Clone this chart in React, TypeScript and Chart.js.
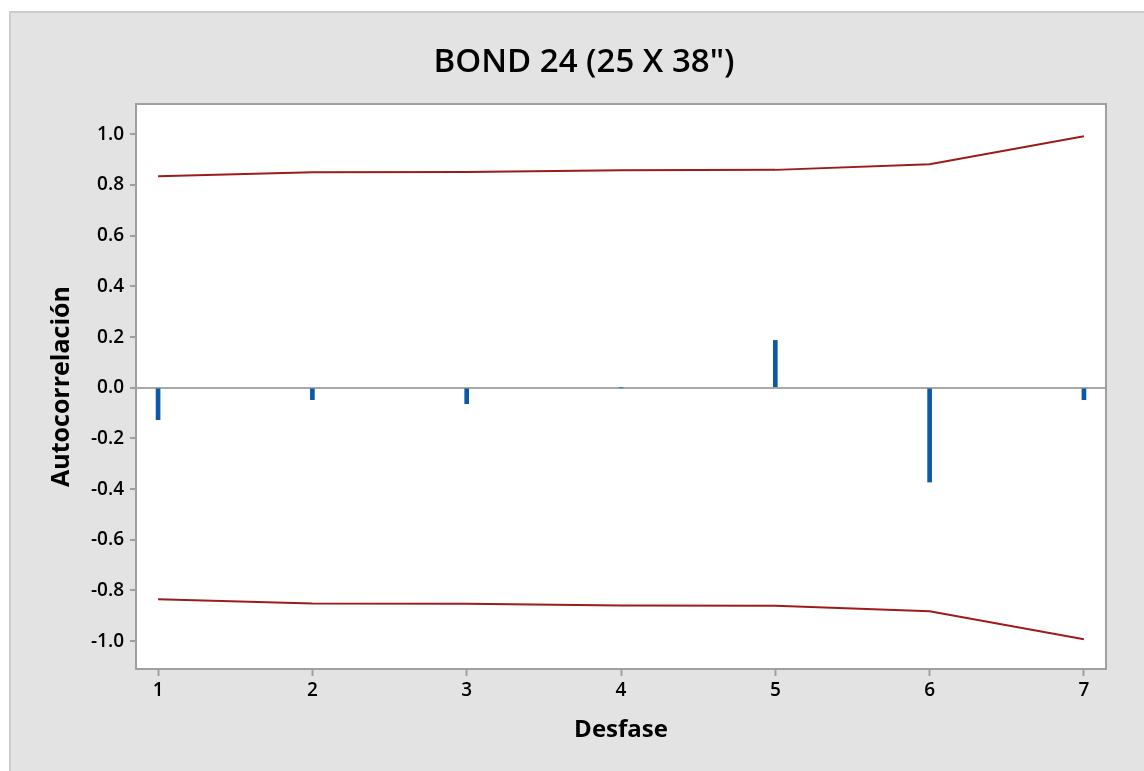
import React, { useEffect, useRef } from "react";
import { Chart, registerables } from "chart.js";

Chart.register(...registerables);

const TITLE = 'BOND 24 (25 X 38")';
const X_TITLE = "Desfase";
const Y_TITLE = "Autocorrelación";

const lags = [1, 2, 3, 4, 5, 6, 7];
const acf = [-0.126, -0.047, -0.063, 0.0, 0.187, -0.372, -0.047];
const upperLimit = [0.835, 0.851, 0.852, 0.859, 0.86, 0.882, 0.993];
const lowerLimit = [-0.835, -0.851, -0.852, -0.859, -0.86, -0.882, -0.993];
const yTicks = [-1.0, -0.8, -0.6, -0.4, -0.2, 0.0, 0.2, 0.4, 0.6, 0.8, 1.0];

const FONT = "'Open Sans', 'Noto Sans', sans-serif";

export default function App() {
  const ref = useRef<HTMLCanvasElement | null>(null);

  useEffect(() => {
    if (!ref.current) return;
    const bgPlugin = {
      id: "bgPlugin",
      afterLayout(chart: any) {
        const t = chart.titleBlock;
        if (t) {
          // centre the title over the whole grey panel
          t.right = t.left + 2 * (584 - t.left);
          t.width = t.right - t.left;
        }
      },
      beforeDraw(chart: any) {
        const { ctx, chartArea } = chart;
        ctx.save();
        ctx.fillStyle = "#ffffff";
        ctx.fillRect(0, 0, chart.width, chart.height);
        ctx.fillStyle = "#e3e3e3";
        ctx.fillRect(10, 12, chart.width, chart.height);
        ctx.strokeStyle = "#cccccc";
        ctx.lineWidth = 2;
        ctx.beginPath();
        ctx.moveTo(10, chart.height + 5);
        ctx.lineTo(10, 12);
        ctx.lineTo(chart.width + 5, 12);
        ctx.stroke();
        ctx.fillStyle = "#ffffff";
        ctx.fillRect(chartArea.left, chartArea.top, chartArea.right - chartArea.left, chartArea.bottom - chartArea.top);
        ctx.restore();
      },
      afterDraw(chart: any) {
        const { ctx, chartArea } = chart;
        ctx.save();
        ctx.strokeStyle = "#a0a0a0";
        ctx.lineWidth = 2;
        ctx.strokeRect(chartArea.left, chartArea.top, chartArea.right - chartArea.left, chartArea.bottom - chartArea.top);
        ctx.restore();
      },
    };

    const chart = new Chart(ref.current, {
      type: "bar",
      data: {
        datasets: [
          {
            type: "bar",
            data: lags.map((x, i) => ({ x, y: acf[i] })),
            backgroundColor: "#0b59a8",
            borderWidth: 0,
            barThickness: 4,
            order: 2,
          } as any,
          {
            type: "line",
            data: lags.map((x, i) => ({ x, y: upperLimit[i] })),
            borderColor: "#9e1b1b",
            borderWidth: 2,
            pointRadius: 0,
            tension: 0,
            fill: false,
            order: 1,
          } as any,
          {
            type: "line",
            data: lags.map((x, i) => ({ x, y: lowerLimit[i] })),
            borderColor: "#9e1b1b",
            borderWidth: 2,
            pointRadius: 0,
            tension: 0,
            fill: false,
            order: 1,
          } as any,
        ],
      },
      options: {
        responsive: false,
        animation: false,
        devicePixelRatio: 1,
        layout: { padding: { left: 10, right: 38, top: 0, bottom: 0 } },
        plugins: {
          legend: { display: false },
          tooltip: { enabled: false },
          title: {
            display: true,
            text: TITLE,
            color: "#000000",
            font: { family: FONT, size: 33, weight: "600" },
            padding: { top: 43, bottom: 21.4 },
          },
        },
        scales: {
          x: {
            type: "linear",
            offset: false,
            min: 0.857,
            max: 7.143,
            afterBuildTicks: (scale: any) => {
              scale.ticks = lags.map((v) => ({ value: v }));
            },
            afterFit: (scale: any) => {
              scale.height = 102;
            },
            grid: {
              display: true,
              offset: false,
              drawOnChartArea: false,
              drawTicks: true,
              tickLength: 7,
              tickColor: "#a0a0a0",
              tickWidth: 2,
            },
            border: { display: false },
            ticks: {
              color: "#000000",
              font: { family: FONT, size: 19, weight: "600" },
              padding: 3,
              callback: (v: any) => String(v),
            },
            title: {
              display: true,
              text: X_TITLE,
              color: "#000000",
              font: { family: FONT, size: 24, weight: "700" },
              padding: { top: 0, bottom: 26.6 },
            },
          },
          y: {
            type: "linear",
            min: -1.11,
            max: 1.12,
            afterBuildTicks: (scale: any) => {
              scale.ticks = yTicks.map((v) => ({ value: v }));
            },
            afterFit: (scale: any) => {
              scale.width = 126;
            },
            grid: {
              display: true,
              drawOnChartArea: true,
              drawTicks: true,
              tickLength: 6,
              tickColor: "#a0a0a0",
              tickWidth: 2,
              lineWidth: 2,
              color: (c: any) => (c.tick && Math.abs(c.tick.value) < 1e-9 ? "#a8a8a8" : "rgba(0,0,0,0)"),
            },
            border: { display: false },
            ticks: {
              color: "#000000",
              font: { family: FONT, size: 19, weight: "600" },
              padding: 6,
              callback: (v: any) => Number(v).toFixed(1),
            },
            title: {
              display: true,
              text: Y_TITLE,
              color: "#000000",
              font: { family: FONT, size: 25, weight: "700" },
              padding: { top: 37, bottom: 0 },
            },
          },
        },
      } as any,
      plugins: [bgPlugin],
    });
    return () => chart.destroy();
  }, []);

  return (
    <div style={{ position: "fixed", left: 0, top: 0, width: 1144, height: 771, background: "#fff" }}>
      <canvas ref={ref} width={1144} height={771} style={{ display: "block", width: 1144, height: 771 }} />
    </div>
  );
}
